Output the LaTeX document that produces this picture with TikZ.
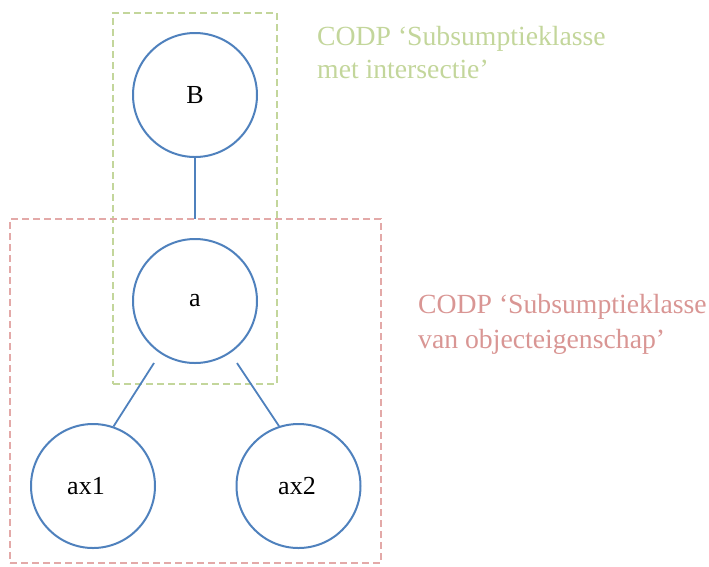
\documentclass[tikz,border=0pt]{standalone}
\usepackage{fontspec}
\setmainfont{Liberation Serif}
\definecolor{nodeblue}{HTML}{4F81BD}
\definecolor{greenlab}{HTML}{C3D69B}
\definecolor{redlab}{HTML}{D99694}
\definecolor{redbox}{HTML}{E3A9A8}
\tikzset{
  concept/.style={circle, draw=nodeblue, line width=2pt, fill=white, minimum size=124pt, inner sep=0pt, font=\fontsize{26}{30}\selectfont},
  ctext/.style={inner sep=0pt, font=\fontsize{26}{30}\selectfont},
  link/.style={draw=nodeblue, line width=1.8pt},
  greenframe/.style={draw=greenlab, line width=1.6pt, dash pattern=on 7pt off 4pt},
  redframe/.style={draw=redbox, line width=1.6pt, dash pattern=on 7pt off 4pt},
  caption/.style={anchor=base west, align=left, inner sep=0pt}
}
\begin{document}
\begin{tikzpicture}[x=1pt,y=-1pt]
\useasboundingbox (0,0) rectangle (709,566);
% circles
\node[concept] (B) at (195,95) {B};
\node[concept] (a) at (195,301) {a};
\node[concept] (ax1) at (93,486) {};
\node[concept] (ax2) at (298.5,486) {};
\node[ctext] (ax1t) at (86,486) {ax1};
\node[ctext] (ax2t) at (297,486) {ax2};
% frames
\node[greenframe, minimum width=164pt, minimum height=371pt, inner sep=0pt] (gframe) at (195,198.5) {};
\node[redframe, minimum width=371pt, minimum height=344pt, inner sep=0pt] (rframe) at (195.5,391) {};
% connectors
\coordinate (Bend) at (195,219);
\coordinate (aL) at (154,363);
\coordinate (aR) at (237,363);
\draw[link] (B.south) -- (Bend);
\draw[link] (aL) -- (ax1.71);
\draw[link] (aR) -- (ax2.108);
% labels
\node[caption, text=greenlab, font=\fontsize{27.7}{32.6}\selectfont] (glab) at (317,78.5) {CODP ‘Subsumptieklasse\\met intersectie’};
\node[caption, text=redlab, font=\fontsize{27.7}{35}\selectfont] (rlab) at (418,348) {CODP ‘Subsumptieklasse\\van objecteigenschap’};
\end{tikzpicture}
\end{document}
